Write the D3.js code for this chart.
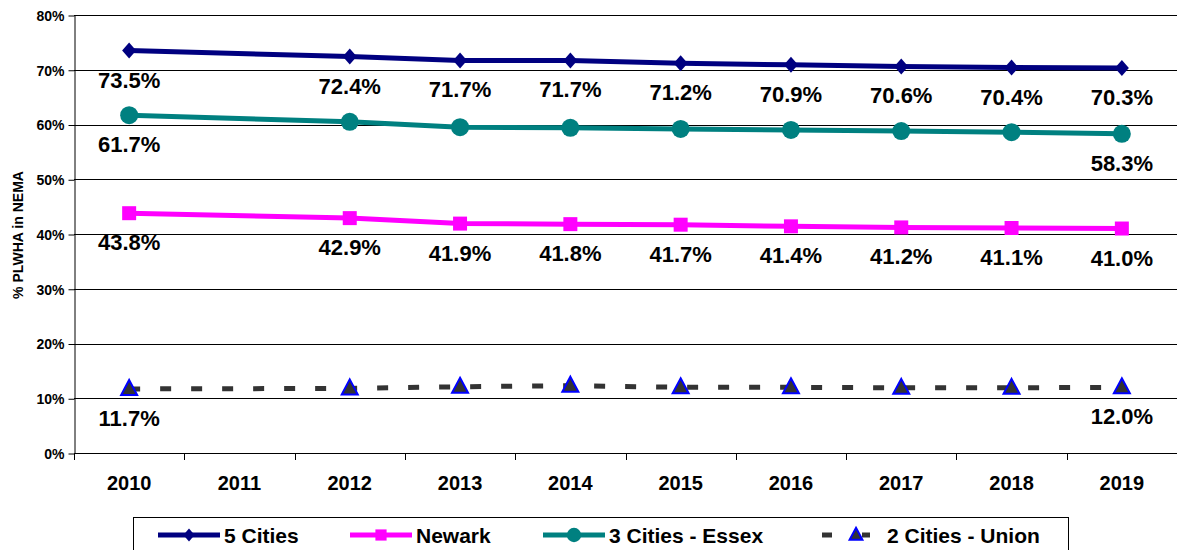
<!DOCTYPE html>
<html lang="en">

<head>
	<meta charset="utf-8">
	<title>PLWHA in NEMA</title>
<style>
	body,
	html {
	  margin: 0;
	  padding: 0;
	  background: #fff;
	  font-family: Arial, "Liberation Sans", Helvetica, sans-serif;
	}

	svg text {
	  font-weight: bold;
	  fill: #000;
	}
</style>
</head>
<body>
	<svg></svg>
	<script src="https://d3js.org/d3.v7.min.js"></script>

	<script>

		// chart values (2011 has no data point)
		let years = ["2010", "2011", "2012", "2013", "2014", "2015", "2016", "2017", "2018", "2019"];
		let fiveCities = [73.5, null, 72.4, 71.7, 71.7, 71.2, 70.9, 70.6, 70.4, 70.3];
		let newark = [43.8, null, 42.9, 41.9, 41.8, 41.7, 41.4, 41.2, 41.1, 41.0];
		let essex = [61.7, null, 60.5, 59.5, 59.4, 59.2, 59.0, 58.8, 58.6, 58.3];
		let union = [11.7, null, 11.8, 12.1, 12.3, 12.0, 12.0, 11.9, 11.9, 12.0];
		let yTicks = [0, 10, 20, 30, 40, 50, 60, 70, 80];
		// which points carry a label
		let essexLabelled = ["2010", "2019"];
		let unionLabelled = ["2010", "2019"];

		let w = 1177, h = 550;

		let svg = d3.select("svg")
			.attr("width", w)
			.attr("height", h);

		let x = d3.scaleBand()
			.domain(years)
			.range([74, 1177]);

		let y = d3.scaleLinear()
			.domain([0, 80])
			.range([453, 15]);

		// series description
		let series = [
			{ name: "5 Cities", values: fiveCities, color: "#000080", marker: "diamond", labels: years, dash: null },
			{ name: "Newark", values: newark, color: "#ff00ff", marker: "square", labels: years, dash: null },
			{ name: "3 Cities - Essex", values: essex, color: "#008080", marker: "circle", labels: essexLabelled, dash: null },
			{ name: "2 Cities - Union", values: union, color: "#333333", marker: "triangle", labels: unionLabelled, dash: "11,20" }
		];

		// marker shapes, s = scale factor
		function markerPath(type, s) {
			if (type == "diamond") return `M0,${-8 * s}L${7 * s},0L0,${8 * s}L${-7 * s},0Z`;
			if (type == "square") return `M${-7 * s},${-7 * s}h${14 * s}v${14 * s}h${-14 * s}Z`;
			if (type == "triangle") return `M0,${-9 * s}L${8 * s},${6 * s}L${-8 * s},${6 * s}Z`;
			return d3.symbol(d3.symbolCircle, 3.14159 * 81 * s * s)();
		}

		// gridlines
		svg.append("g")
			.attr("id", "grid")
			.selectAll("line")
			.data(yTicks.filter(d => d > 0))
			.enter()
			.append("line")
			.attr("x1", 74)
			.attr("x2", 1177)
			.attr("y1", d => Math.round(y(d)) + 0.5)
			.attr("y2", d => Math.round(y(d)) + 0.5)
			.attr("stroke", "#000")
			.attr("stroke-width", 1);

		// y axis
		let yAxis = svg.append("g")
			.attr("transform", "translate(74.5,0.5)")
			.call(d3.axisLeft(y).tickValues(yTicks).tickFormat(d => d + "%").tickSize(6).tickSizeOuter(0));
		yAxis.select(".domain").attr("stroke", "#000");
		yAxis.selectAll(".tick line").attr("stroke", "#000");
		yAxis.selectAll("text")
			.attr("x", -10)
			.attr("dy", "0.35em")
			.style("font-size", "14px")
			.style("font-family", "Arial, 'Liberation Sans', sans-serif");

		// x axis: ticks at band boundaries
		svg.append("line")
			.attr("x1", 74)
			.attr("x2", 1177)
			.attr("y1", 453.5)
			.attr("y2", 453.5)
			.attr("stroke", "#000");

		svg.append("g")
			.selectAll("line")
			.data(years)
			.enter()
			.append("line")
			.attr("x1", d => Math.round(x(d)) + 0.5)
			.attr("x2", d => Math.round(x(d)) + 0.5)
			.attr("y1", 453)
			.attr("y2", 460)
			.attr("stroke", "#000");

		svg.append("g")
			.selectAll("text")
			.data(years)
			.enter()
			.append("text")
			.attr("x", d => x(d) + x.bandwidth() / 2)
			.attr("y", 490)
			.attr("text-anchor", "middle")
			.style("font-size", "20px")
			.text(d => d);

		// y axis title
		svg.append("text")
			.attr("transform", "translate(23,235) rotate(-90)")
			.attr("text-anchor", "middle")
			.style("font-size", "14px")
			.text("% PLWHA in NEMA");

		let cx = d => x(d.year) + x.bandwidth() / 2;

		// draw series
		series.forEach(s => {
			let pts = years.map((yr, i) => ({ year: yr, value: s.values[i] })).filter(d => d.value != null);

			let line = d3.line()
				.x(cx)
				.y(d => y(d.value));

			svg.append("path")
				.datum(pts)
				.attr("d", line)
				.attr("fill", "none")
				.attr("stroke", s.color)
				.attr("stroke-width", 5)
				.attr("stroke-dasharray", s.dash);

			svg.append("g")
				.selectAll("path")
				.data(pts)
				.enter()
				.append("path")
				.attr("transform", d => `translate(${cx(d)},${y(d.value)})`)
				.attr("d", markerPath(s.marker, 1))
				.attr("fill", s.color)
				.attr("stroke", s.marker == "triangle" ? "#0000ff" : "none")
				.attr("stroke-width", 2);

			svg.append("g")
				.selectAll("text")
				.data(pts.filter(d => s.labels.includes(d.year)))
				.enter()
				.append("text")
				.attr("x", cx)
				.attr("y", d => y(d.value) + 37)
				.attr("text-anchor", "middle")
				.style("font-size", "22px")
				.text(d => d.value.toFixed(1) + "%");
		});

		// legend
		let legend = svg.append("g")
			.attr("id", "legend");

		legend.append("rect")
			.attr("x", 133.5)
			.attr("y", 517.5)
			.attr("width", 935)
			.attr("height", 40)
			.attr("fill", "#fff")
			.attr("stroke", "#000");

		let legendX = [158, 350, 543, 822];

		series.forEach((s, i) => {
			let lx = legendX[i];
			let ly = 535;
			let item = legend.append("g");
			if (s.dash) {
				item.append("line")
					.attr("x1", lx).attr("x2", lx + 10)
					.attr("y1", ly).attr("y2", ly)
					.attr("stroke", s.color).attr("stroke-width", 5);
				item.append("line")
					.attr("x1", lx + 40).attr("x2", lx + 48)
					.attr("y1", ly).attr("y2", ly)
					.attr("stroke", s.color).attr("stroke-width", 5);
			} else {
				item.append("line")
					.attr("x1", lx).attr("x2", lx + 62)
					.attr("y1", ly).attr("y2", ly)
					.attr("stroke", s.color).attr("stroke-width", 5);
			}
			item.append("path")
				.attr("transform", `translate(${s.dash ? lx + 34 : lx + 31},${ly})`)
				.attr("d", markerPath(s.marker, 0.8))
				.attr("fill", s.color)
				.attr("stroke", s.marker == "triangle" ? "#0000ff" : "none")
				.attr("stroke-width", 2);
			item.append("text")
				.attr("x", s.dash ? lx + 65 : lx + 66)
				.attr("y", ly + 8)
				.style("font-size", "21px")
				.text(s.name);
		});

	</script>
</body>

</html>
